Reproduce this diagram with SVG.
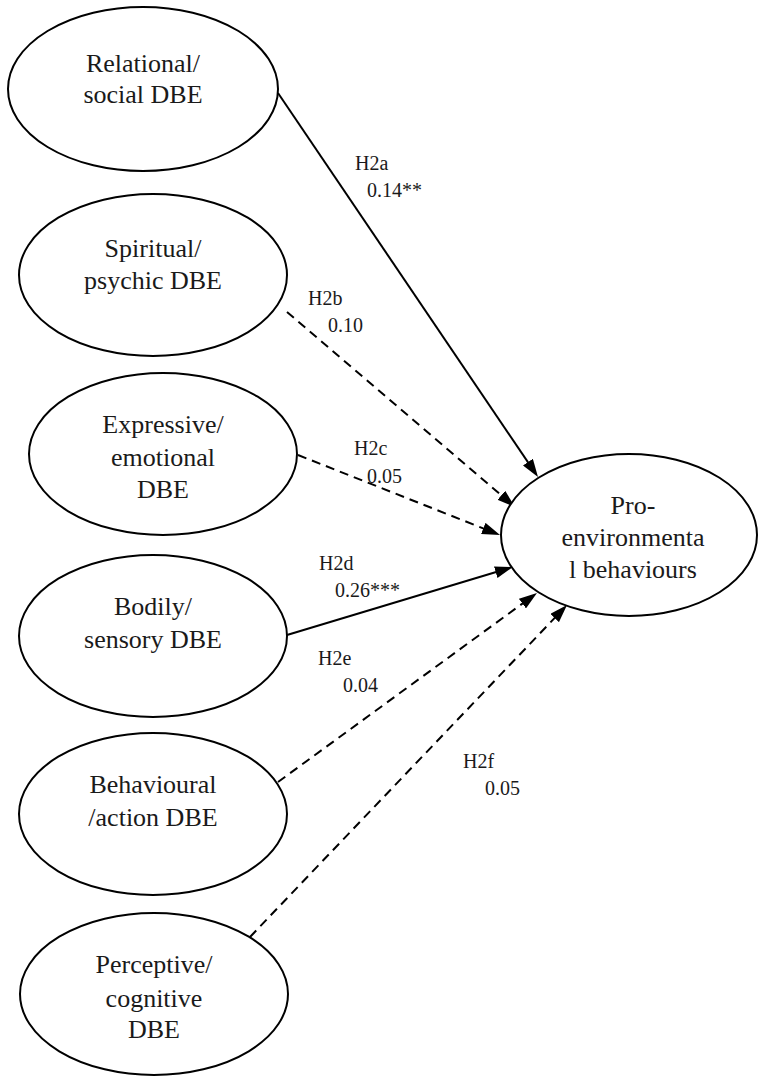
<svg xmlns="http://www.w3.org/2000/svg" width="759" height="1076" viewBox="0 0 759 1076">
<style>
.node ellipse{fill:#fff;stroke:#000;stroke-width:2}
.node text{font-family:"Liberation Serif","Times New Roman",serif;font-size:26px;fill:#1a1a1a;text-anchor:middle}
.conn line{stroke:#000;stroke-width:2;fill:none}
.conn .dash{stroke-dasharray:9 6}
.lbl{font-family:"Liberation Serif","Times New Roman",serif;font-size:20px;fill:#1a1a1a}
</style>
<defs>
<marker id="ah" viewBox="0 0 18 12" refX="10" refY="6" markerWidth="18" markerHeight="12" markerUnits="userSpaceOnUse" orient="auto">
<path d="M0,0 L18,6 L0,12 z" fill="#000"/>
</marker>
</defs>
<rect width="759" height="1076" fill="#fff"/>
<g id="connectors" class="conn">
<line x1="278" y1="93" x2="533.5" y2="470.4" marker-end="url(#ah)"/>
<line class="dash" x1="287" y1="312" x2="508.9" y2="501.8" marker-end="url(#ah)"/>
<line class="dash" x1="298" y1="455" x2="492.6" y2="532.1" marker-end="url(#ah)"/>
<line x1="287" y1="635" x2="505.3" y2="569.3" marker-end="url(#ah)"/>
<line class="dash" x1="278" y1="782" x2="530.5" y2="597.7" marker-end="url(#ah)"/>
<line class="dash" x1="250" y1="937" x2="561.5" y2="610.8" marker-end="url(#ah)"/>
</g>
<g id="labels">
<text class="lbl" x="355" y="170">H2a</text>
<text class="lbl" x="367" y="197">0.14**</text>
<text class="lbl" x="308" y="305">H2b</text>
<text class="lbl" x="328" y="332">0.10</text>
<text class="lbl" x="354" y="455">H2c</text>
<text class="lbl" x="367" y="483">0.05</text>
<text class="lbl" x="319" y="570">H2d</text>
<text class="lbl" x="335" y="597">0.26***</text>
<text class="lbl" x="318" y="665">H2e</text>
<text class="lbl" x="343" y="692">0.04</text>
<text class="lbl" x="463" y="768">H2f</text>
<text class="lbl" x="485" y="795">0.05</text>
</g>
<g id="relational" class="node">
<ellipse cx="143" cy="89" rx="135" ry="82"/>
<text x="143" y="72">Relational/</text>
<text x="143" y="103">social DBE</text>
</g>
<g id="spiritual" class="node">
<ellipse cx="153" cy="275" rx="134" ry="81"/>
<text x="153" y="257">Spiritual/</text>
<text x="153" y="289">psychic DBE</text>
</g>
<g id="expressive" class="node">
<ellipse cx="163" cy="454" rx="134" ry="81"/>
<text x="163" y="433">Expressive/</text>
<text x="163" y="466">emotional</text>
<text x="163" y="498">DBE</text>
</g>
<g id="bodily" class="node">
<ellipse cx="153" cy="636" rx="134" ry="81"/>
<text x="153" y="615">Bodily/</text>
<text x="153" y="648">sensory DBE</text>
</g>
<g id="behavioural" class="node">
<ellipse cx="153" cy="814" rx="134" ry="81"/>
<text x="153" y="793">Behavioural</text>
<text x="153" y="826">/action DBE</text>
</g>
<g id="perceptive" class="node">
<ellipse cx="154" cy="994" rx="134" ry="81"/>
<text x="154" y="973">Perceptive/</text>
<text x="154" y="1007">cognitive</text>
<text x="154" y="1038">DBE</text>
</g>
<g id="pro-environmental" class="node">
<ellipse cx="629" cy="535" rx="128" ry="81"/>
<text x="633" y="514">Pro-</text>
<text x="633" y="546">environmenta</text>
<text x="633" y="578">l behaviours</text>
</g>
</svg>
